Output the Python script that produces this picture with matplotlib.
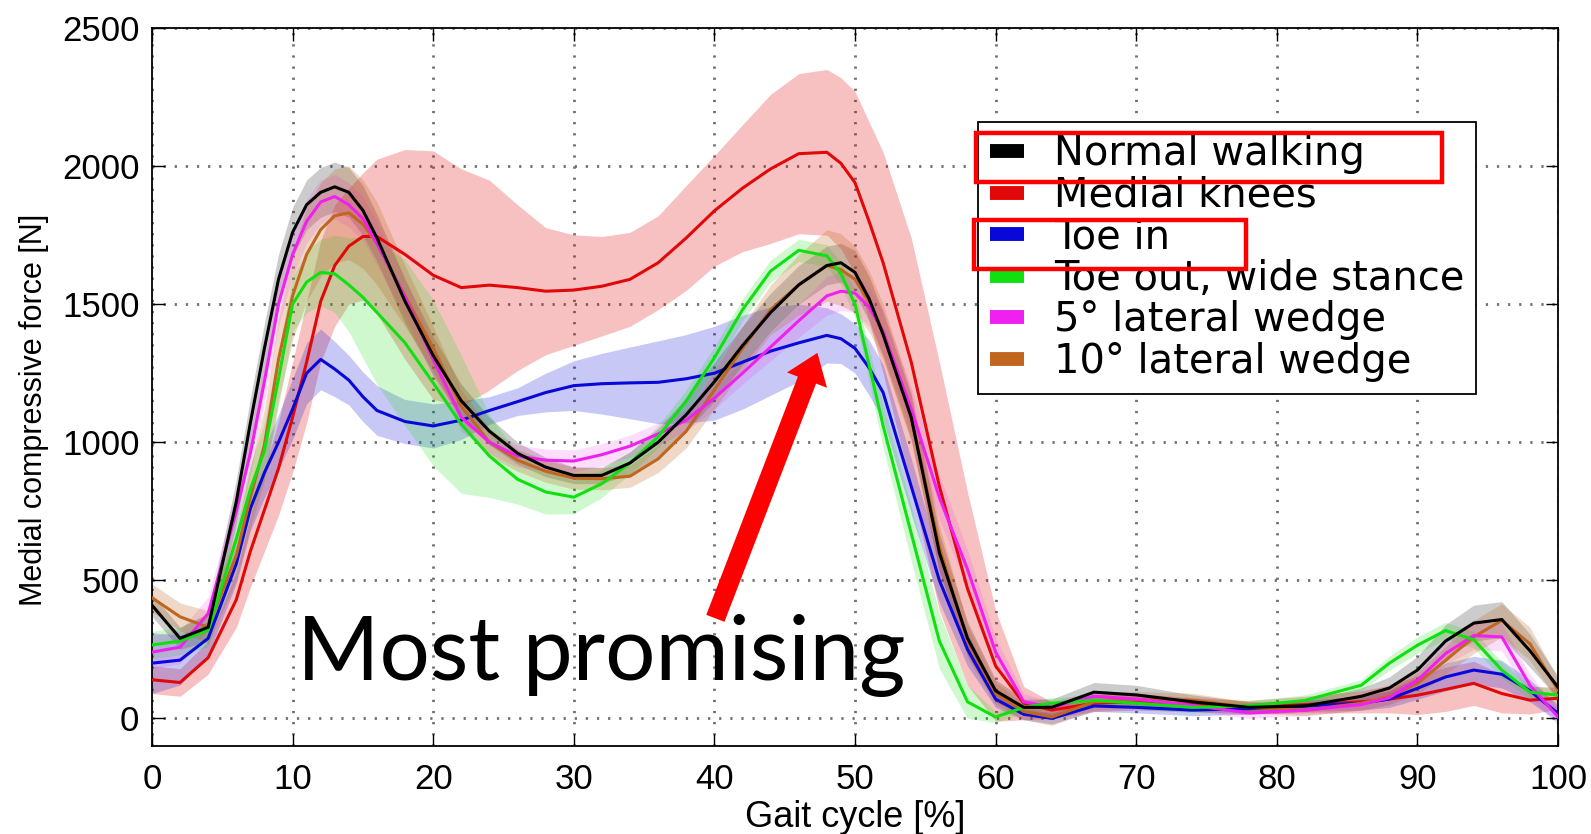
import numpy as np
import matplotlib.pyplot as plt
from matplotlib.lines import Line2D
from matplotlib.patches import Rectangle, FancyArrowPatch

# gait cycle sample points [%]
gait = [0, 2, 4, 6, 7, 8, 9, 10, 11, 12, 13, 14, 15, 16, 18, 20, 22, 24, 26, 28,
        30, 32, 34, 36, 38, 40, 42, 44, 46, 48, 49, 50, 51, 52, 54, 56, 58, 60, 62, 64,
        67, 70, 74, 78, 82, 86, 88, 90, 92, 94, 96, 98, 100]

# mean medial compressive force [N] and standard deviation per condition
normal = [410, 290, 330, 785, 1070, 1340, 1590, 1760, 1860, 1905, 1925, 1905, 1840, 1740, 1510, 1314, 1150, 1040, 960, 910,
          880, 880, 925, 1000, 1100, 1219, 1350, 1470, 1570, 1640, 1650, 1615, 1520, 1390, 1090, 600, 290, 100, 40, 40,
          95, 85, 60, 40, 45, 80, 110, 175, 280, 345, 358, 245, 113]
normal_sd = [40, 40, 50, 80, 90, 90, 90, 90, 90, 90, 90, 90, 90, 85, 80, 70, 60, 50, 40, 35,
             30, 30, 40, 50, 60, 70, 70, 70, 70, 70, 70, 80, 80, 80, 80, 70, 60, 40, 30, 30,
             35, 35, 25, 20, 20, 30, 40, 50, 60, 65, 65, 60, 40]

medial = [140, 130, 220, 430, 605, 755, 905, 1090, 1290, 1510, 1640, 1710, 1745, 1745, 1680, 1605, 1560, 1569, 1560, 1547,
          1551, 1565, 1590, 1650, 1740, 1838, 1920, 1990, 2045, 2050, 2010, 1940, 1800, 1650, 1290, 840, 470, 190, 55, 30,
          55, 60, 50, 40, 50, 60, 70, 84, 105, 127, 90, 66, 73]
medial_sd = [50, 50, 60, 100, 130, 150, 170, 200, 220, 220, 220, 210, 230, 280, 380, 450, 430, 380, 300, 230,
             200, 180, 170, 170, 190, 200, 230, 270, 290, 300, 310, 330, 360, 400, 450, 450, 350, 200, 60, 30,
             30, 30, 25, 25, 30, 40, 50, 70, 80, 80, 70, 50, 40]

toe_in = [200, 211, 290, 560, 760, 890, 1000, 1120, 1250, 1300, 1265, 1225, 1165, 1115, 1075, 1059, 1080, 1115, 1147, 1180,
          1205, 1212, 1215, 1217, 1230, 1250, 1290, 1330, 1360, 1387, 1375, 1340, 1270, 1180, 840, 500, 250, 70, 15, 0,
          45, 40, 30, 35, 45, 55, 70, 109, 150, 175, 160, 100, 18]
toe_in_sd = [110, 90, 60, 70, 80, 90, 100, 110, 110, 110, 100, 90, 90, 90, 80, 80, 70, 50, 50, 70,
             90, 110, 130, 150, 160, 170, 170, 160, 140, 100, 90, 90, 100, 100, 100, 80, 60, 30, 20, 20,
             20, 20, 20, 20, 20, 25, 30, 40, 50, 50, 50, 40, 30]

toe_out = [266, 280, 320, 650, 830, 970, 1230, 1500, 1580, 1615, 1610, 1570, 1525, 1470, 1360, 1215, 1065, 950, 866, 820,
           801, 850, 925, 1020, 1150, 1306, 1480, 1620, 1695, 1675, 1610, 1500, 1280, 1060, 670, 280, 60, 5, 40, 55,
           65, 55, 40, 45, 65, 120, 200, 265, 318, 285, 175, 95, 84]
toe_out_sd = [50, 50, 60, 80, 90, 100, 100, 100, 110, 120, 140, 170, 220, 260, 300, 300, 250, 150, 90, 80,
              60, 50, 40, 40, 40, 40, 40, 40, 40, 40, 40, 50, 60, 80, 100, 100, 60, 20, 20, 20,
              20, 20, 20, 20, 20, 20, 25, 30, 30, 30, 30, 25, 20]

wedge5 = [240, 258, 380, 750, 960, 1220, 1500, 1680, 1800, 1870, 1890, 1860, 1810, 1720, 1525, 1300, 1090, 1000, 950, 935,
          932, 955, 986, 1030, 1080, 1160, 1250, 1345, 1440, 1530, 1547, 1540, 1490, 1400, 1120, 800, 540, 240, 60, 40,
          80, 70, 47, 20, 30, 50, 75, 138, 235, 300, 295, 120, 5]
wedge5_sd = [60, 60, 60, 70, 80, 80, 80, 80, 80, 80, 80, 80, 80, 80, 70, 60, 50, 40, 40, 40,
             40, 40, 40, 40, 40, 40, 40, 50, 60, 70, 70, 70, 70, 80, 80, 80, 70, 50, 30, 20,
             20, 20, 20, 20, 20, 20, 25, 30, 40, 50, 50, 40, 30]

wedge10 = [437, 368, 330, 590, 800, 990, 1300, 1530, 1680, 1770, 1820, 1831, 1790, 1720, 1530, 1340, 1130, 1000, 935, 895,
           870, 868, 877, 940, 1040, 1190, 1340, 1480, 1570, 1640, 1625, 1590, 1510, 1400, 1090, 620, 280, 90, 25, 5,
           60, 68, 66, 40, 30, 55, 80, 127, 210, 295, 355, 270, 102]
wedge10_sd = [50, 50, 60, 90, 110, 130, 150, 160, 170, 170, 170, 170, 160, 150, 110, 80, 60, 50, 40, 40,
              40, 40, 40, 50, 60, 70, 80, 90, 110, 130, 130, 120, 110, 100, 90, 80, 60, 40, 30, 30,
              30, 30, 25, 20, 20, 25, 30, 40, 50, 60, 60, 60, 40]

labels = ['Normal walking', 'Medial knees', 'Toe in', 'Toe out, wide stance',
          '5\u00b0 lateral wedge', '10\u00b0 lateral wedge']
colors = ['#000000', '#e00808', '#0808d8', '#10e010', '#f020f0', '#c0661e']
band_alpha = [0.2, 0.25, 0.22, 0.2, 0.15, 0.25]

series = [normal, medial, toe_in, toe_out, wedge5, wedge10]
sds = [normal_sd, medial_sd, toe_in_sd, toe_out_sd, wedge5_sd, wedge10_sd]

fig = plt.figure(figsize=(15.91, 8.34), dpi=100)
ax = fig.add_axes([0.0955, 0.1055, 0.8838, 0.8609])

x = np.array(gait)
for m, sd, c, a in zip(series, sds, colors, band_alpha):
    m = np.array(m)
    sd = np.array(sd)
    ax.fill_between(x, m - sd, m + sd, color=c, alpha=a, lw=0)

draw_order = [1, 2, 5, 4, 3, 0]
for i in draw_order:
    ax.plot(x, series[i], color=colors[i], lw=2.2, zorder=3)

ax.set_xlim(0, 100)
ax.set_ylim(-100, 2500)
ax.set_xticks(range(0, 101, 10))
ax.set_yticks(range(0, 2501, 500))
ax.grid(True, color='#707070', lw=2.0, linestyle=(0, (0.8, 3.2)))
ax.set_axisbelow(True)
ax.tick_params(direction='in', length=9, width=1, top=True, right=True)
ax.tick_params(axis='y', pad=9, labelsize=25)
ax.tick_params(axis='x', pad=12, labelsize=25)
for lab in ax.get_yticklabels():
    lab.set_family('Liberation Sans')
for lab in ax.get_xticklabels():
    lab.set_family(['Liberation Sans Narrow', 'Liberation Sans'])
for s in ax.spines.values():
    s.set_linewidth(1.3)

ax.set_xlabel('Gait cycle [%]', fontsize=26, family=['Liberation Sans Narrow', 'Liberation Sans'], labelpad=3)
ax.set_ylabel('Medial compressive force [N]', fontsize=22, family='Liberation Sans')
ax.yaxis.set_label_coords(-0.0733, 0.468)

handles = [Line2D([], [], color=c, lw=10, solid_capstyle='butt') for c in colors]
leg = ax.legend(handles, labels, loc='upper left', bbox_to_anchor=(0.5875, 0.869),
                borderaxespad=0, fancybox=False, framealpha=1, edgecolor='black',
                prop={'family': 'DejaVu Sans', 'size': 28.8}, handlelength=0.85,
                handletextpad=0.75, labelspacing=0.04, borderpad=0.3)
leg.get_frame().set_linewidth(1.3)
leg.set_zorder(5)

# red highlight boxes around two legend entries (figure pixel positions)
W, H = 1591, 834
for (x0, y0, x1, y1) in [(976, 133, 1442, 182), (974, 220, 1246, 269)]:
    fig.add_artist(Rectangle((x0 / W, 1 - y1 / H), (x1 - x0) / W, (y1 - y0) / H,
                             transform=fig.transFigure, fill=False, ec='#ff0000', lw=3.2, zorder=10))

arrow = FancyArrowPatch((40.0, 353), (47.4, 1333),
                        arrowstyle='simple,head_length=1.5,head_width=2.2,tail_width=1.0',
                        mutation_scale=14, color='#ff0000', lw=0, zorder=6)
ax.add_patch(arrow)

ax.text(10.3, 138, 'Most promising', fontsize=64, family='Lato', va='baseline', ha='left', zorder=7)

fig.savefig('out.png', dpi=100)
